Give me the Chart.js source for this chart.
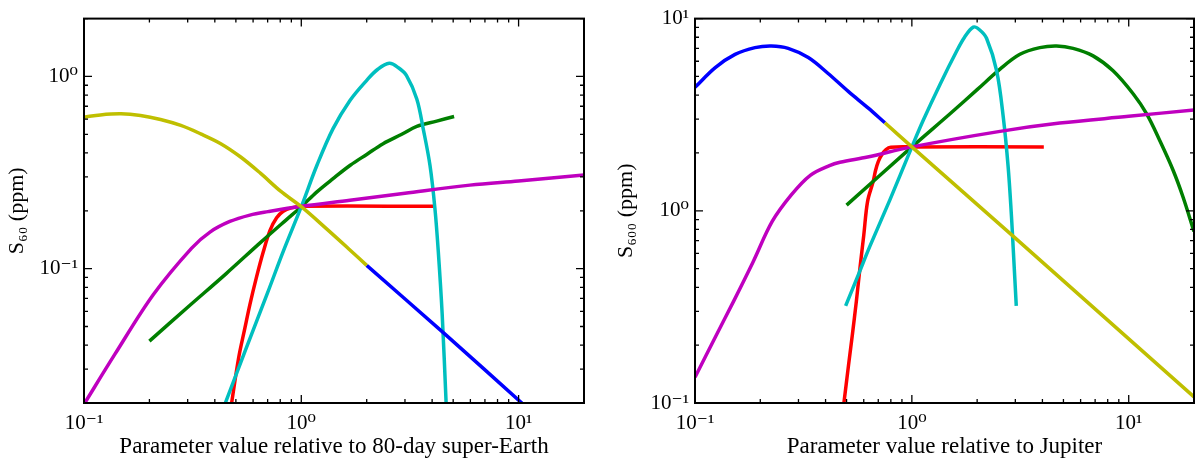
<!DOCTYPE html>
<html>
<head>
<meta charset="utf-8">
<script src="https://cdn.jsdelivr.net/npm/chart.js@4.4.1/dist/chart.umd.min.js"></script>
<style>
  html, body { margin: 0; padding: 0; background: #fff; }
  #wrap { position: relative; width: 1200px; height: 463px; }
  .panel { position: absolute; top: 0; width: 600px; height: 463px; }
</style>
</head>
<body>
<div id="wrap">
  <div class="panel" style="left:0"><canvas id="cL" width="600" height="463"></canvas></div>
  <div class="panel" style="left:600px"><canvas id="cR" width="600" height="463"></canvas></div>
</div>
<script>
// ---------- Left panel: 80-day super-Earth ----------
const leftXTitle = 'Parameter value relative to 80-day super-Earth';
const leftYTitle = 'S\u2086\u2080 (ppm)';
const leftXTicks = [0.1, 1, 10];
const leftYTicks = [0.1, 1];

const leftYellowX = [0.1, 0.119, 0.148, 0.182, 0.225, 0.279, 0.344, 0.426, 0.526, 0.65, 0.803, 1.0, 1.3, 1.65, 2.0];
const leftYellowY = [0.614, 0.631, 0.639, 0.626, 0.597, 0.556, 0.503, 0.447, 0.381, 0.313, 0.253, 0.21, 0.162, 0.127, 0.104];
const leftBlueX = [2.0, 4.53, 10.5];
const leftBlueY = [0.104, 0.0462, 0.0197];
const leftGreenX = [0.2, 0.3, 0.45, 0.65, 0.85, 1.0, 1.18, 1.4, 1.68, 2.0, 2.38, 2.9, 3.4, 4.2, 5.05];
const leftGreenY = [0.042, 0.063, 0.094, 0.137, 0.179, 0.21, 0.251, 0.294, 0.345, 0.393, 0.447, 0.50, 0.55, 0.586, 0.619];
const leftCyanX = [0.447, 0.55, 0.7, 0.826, 1.0, 1.178, 1.4, 1.675, 2.0, 2.25, 2.54, 2.8, 3.05, 3.4, 3.64, 3.91, 4.12, 4.27, 4.45, 4.64];
const leftCyanY = [0.02, 0.037, 0.075, 0.123, 0.21, 0.343, 0.535, 0.75, 0.955, 1.09, 1.17, 1.11, 1.01, 0.764, 0.534, 0.345, 0.206, 0.123, 0.058, 0.02];
const leftRedX = [0.478, 0.514, 0.55, 0.58, 0.62, 0.668, 0.718, 0.77, 0.826, 0.9, 1.0, 4.05];
const leftRedY = [0.02, 0.034, 0.049, 0.065, 0.089, 0.122, 0.158, 0.184, 0.199, 0.207, 0.211, 0.211];
const leftMagentaX = [0.1, 0.139, 0.209, 0.313, 0.38, 0.469, 0.58, 0.703, 1.0, 1.675, 3.0, 5.97, 10, 20];
const leftMagentaY = [0.0197, 0.036, 0.0736, 0.128, 0.155, 0.176, 0.19, 0.198, 0.211, 0.227, 0.247, 0.272, 0.286, 0.307];

// ---------- Right panel: Jupiter ----------
const rightXTitle = 'Parameter value relative to Jupiter';
const rightYTitle = 'S\u2086\u2080\u2080 (ppm)';
const rightXTicks = [0.1, 1, 10];
const rightYTicks = [0.1, 1, 10];

const rightBlueX = [0.1, 0.124, 0.153, 0.189, 0.225, 0.269, 0.333, 0.411, 0.509, 0.63, 0.751];
const rightBlueY = [4.39, 5.56, 6.51, 7.06, 7.2, 7.0, 6.27, 5.18, 4.18, 3.42, 2.87];
const rightYellowX = [0.751, 1.0, 2.92, 20];
const rightYellowY = [2.87, 2.15, 0.74, 0.1075];
const rightRedX = [0.486, 0.51, 0.532, 0.555, 0.577, 0.6, 0.625, 0.663, 0.68, 0.7, 0.725, 0.76, 0.8, 1.0, 4.06];
const rightRedY = [0.1, 0.156, 0.228, 0.34, 0.51, 0.745, 1.12, 1.42, 1.62, 1.8, 1.95, 2.08, 2.14, 2.15, 2.15];
const rightCyanX = [0.495, 0.57, 0.64, 0.792, 1.0, 1.127, 1.35, 1.61, 1.75, 1.92, 2.05, 2.21, 2.46, 2.64, 2.78, 2.88, 2.93, 3.03];
const rightCyanY = [0.32, 0.473, 0.653, 1.14, 2.15, 2.95, 4.56, 6.78, 8.0, 9.03, 8.75, 7.9, 5.35, 3.07, 1.69, 0.933, 0.653, 0.32];
const rightGreenX = [0.5, 1.0, 1.5, 2.0, 2.55, 3.15, 3.89, 4.65, 5.54, 6.85, 8.47, 10.5, 12.1, 13.9, 16.0, 17.8, 20];
const rightGreenY = [1.07, 2.15, 3.2, 4.27, 5.46, 6.52, 7.06, 7.2, 7.0, 6.4, 5.35, 4.05, 3.19, 2.32, 1.63, 1.18, 0.78];
const rightMagentaX = [0.1, 0.125, 0.151, 0.185, 0.227, 0.278, 0.34, 0.417, 0.466, 0.625, 1.0, 2.55, 4.81, 10, 20];
const rightMagentaY = [0.136, 0.224, 0.34, 0.54, 0.88, 1.21, 1.53, 1.72, 1.79, 1.905, 2.15, 2.59, 2.86, 3.1, 3.35];

// ---------- helpers ----------
const COLORS = { b: '#0000ff', g: '#007f00', r: '#ff0000', c: '#00bfbf', m: '#bf00bf', y: '#bfbf00' };
const FONT = "'Liberation Serif', 'DejaVu Serif', serif";
const SUP = { '-': '\u207B', '0': '\u2070', '1': '\u00B9', '2': '\u00B2', '3': '\u00B3' };
function powLabel(v) {
  const e = Math.round(Math.log10(v));
  return '10' + String(e).split('').map(ch => SUP[ch] || ch).join('');
}
function pts(xs, ys) { return xs.map((x, i) => ({ x: x, y: ys[i] })); }
function ds(xs, ys, color) {
  return {
    data: pts(xs, ys), borderColor: color, backgroundColor: color,
    borderWidth: 3.5, pointRadius: 0, fill: false, showLine: true,
    tension: 0.35, borderCapStyle: 'butt', borderJoinStyle: 'round'
  };
}

const framePlugin = {
  id: 'frame',
  afterDatasetsDraw(chart) {
    const { ctx, chartArea: a, scales } = chart;
    const xs = scales.x, ys = scales.y;
    function list(min, max) {
      const out = [];
      for (let e = Math.floor(Math.log10(min)) - 1; e <= Math.ceil(Math.log10(max)); e++) {
        for (let k = 1; k <= 9; k++) {
          const v = k * Math.pow(10, e);
          if (v >= min * 0.9999 && v <= max * 1.0001) out.push({ v: v, major: k === 1 });
        }
      }
      return out;
    }
    ctx.save();
    ctx.strokeStyle = '#000';
    ctx.lineWidth = 1.3;
    ctx.beginPath();
    list(xs.min, xs.max).forEach(t => {
      const p = xs.getPixelForValue(t.v), L = t.major ? 8 : 4;
      ctx.moveTo(p, a.bottom); ctx.lineTo(p, a.bottom - L);
      ctx.moveTo(p, a.top); ctx.lineTo(p, a.top + L);
    });
    list(ys.min, ys.max).forEach(t => {
      const p = ys.getPixelForValue(t.v), L = t.major ? 8 : 4;
      ctx.moveTo(a.left, p); ctx.lineTo(a.left + L, p);
      ctx.moveTo(a.right, p); ctx.lineTo(a.right - L, p);
    });
    ctx.stroke();
    ctx.lineWidth = 2;
    ctx.strokeRect(a.left, a.top, a.right - a.left, a.bottom - a.top);
    ctx.restore();
  }
};

function makeChart(id, cfg) {
  return new Chart(document.getElementById(id), {
    type: 'scatter',
    data: { datasets: cfg.datasets },
    plugins: [framePlugin],
    options: {
      responsive: false, animation: false, devicePixelRatio: 1,
      layout: { padding: { left: 0, top: 16, right: cfg.padRight, bottom: 0 } },
      plugins: { legend: { display: false }, tooltip: { enabled: false } },
      scales: {
        x: {
          type: 'logarithmic', min: 0.1, max: 20,
          afterBuildTicks: s => { s.ticks = cfg.xTicks.map(v => ({ value: v })); },
          afterFit: s => { s.height = 60; },
          grid: { display: false, drawTicks: false },
          border: { display: false },
          ticks: { autoSkip: false, maxRotation: 0, padding: 8, color: '#000',
                   font: { family: FONT, size: 21 }, callback: v => powLabel(v) },
          title: { display: true, text: cfg.xTitle, color: '#000',
                   font: { family: FONT, size: 23 }, padding: { top: 0, bottom: 2 } }
        },
        y: {
          type: 'logarithmic', min: cfg.yMin, max: cfg.yMax,
          afterBuildTicks: s => { s.ticks = cfg.yTicks.map(v => ({ value: v })); },
          afterFit: s => { s.width = cfg.yWidth; },
          grid: { display: false, drawTicks: false },
          border: { display: false },
          ticks: { autoSkip: false, padding: 6, color: '#000',
                   font: { family: FONT, size: 21 }, callback: v => powLabel(v) },
          title: { display: true, text: cfg.yTitle, color: '#000',
                   font: { family: FONT, size: 22 }, padding: { top: cfg.yTitlePad, bottom: 0 } }
        }
      }
    }
  });
}

makeChart('cL', {
  xTitle: leftXTitle, yTitle: leftYTitle, xTicks: leftXTicks, yTicks: leftYTicks,
  yMin: 0.02, yMax: 2, yWidth: 84, padRight: 16, yTitlePad: 4,
  datasets: [
    ds(leftYellowX, leftYellowY, COLORS.y),
    ds(leftBlueX, leftBlueY, COLORS.b),
    ds(leftMagentaX, leftMagentaY, COLORS.m),
    ds(leftCyanX, leftCyanY, COLORS.c),
    ds(leftGreenX, leftGreenY, COLORS.g),
    ds(leftRedX, leftRedY, COLORS.r)
  ]
});

makeChart('cR', {
  xTitle: rightXTitle, yTitle: rightYTitle, xTicks: rightXTicks, yTicks: rightYTicks,
  yMin: 0.1, yMax: 10, yWidth: 95, padRight: 6, yTitlePad: 13,
  datasets: [
    ds(rightYellowX, rightYellowY, COLORS.y),
    ds(rightBlueX, rightBlueY, COLORS.b),
    ds(rightMagentaX, rightMagentaY, COLORS.m),
    ds(rightCyanX, rightCyanY, COLORS.c),
    ds(rightGreenX, rightGreenY, COLORS.g),
    ds(rightRedX, rightRedY, COLORS.r)
  ]
});
</script>
</body>
</html>
